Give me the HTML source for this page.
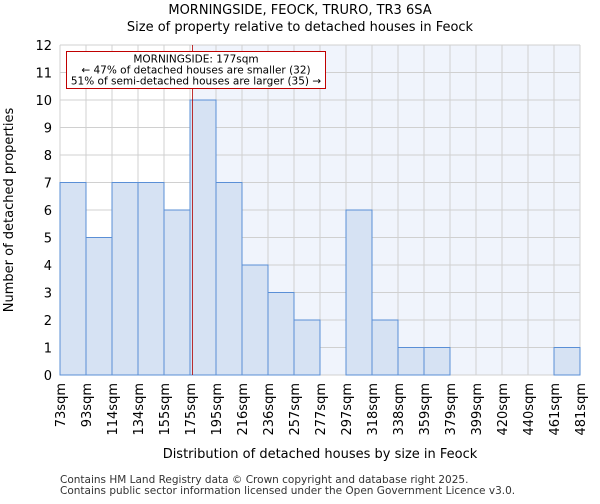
<!DOCTYPE html>
<html><head><meta charset="utf-8"><style>
body{margin:0;background:#fff;font-family:"DejaVu Sans","Liberation Sans",sans-serif}
</style></head><body>
<svg id="chart" width="600" height="500" xmlns="http://www.w3.org/2000/svg" font-family="DejaVu Sans, Liberation Sans, sans-serif">
<text x="300" y="14" text-anchor="middle" font-size="13">MORNINGSIDE, FEOCK, TRURO, TR3 6SA</text>
<text x="300" y="31" text-anchor="middle" font-size="13">Size of property relative to detached houses in Feock</text>
<g id="plot"></g>
<text x="320" y="458" text-anchor="middle" font-size="13">Distribution of detached houses by size in Feock</text>
<text transform="translate(13,210) rotate(-90)" text-anchor="middle" font-size="13">Number of detached properties</text>
<text x="60" y="483" font-size="10.5" fill="#333">Contains HM Land Registry data © Crown copyright and database right 2025.</text>
<text x="60" y="494" font-size="10.5" fill="#333">Contains public sector information licensed under the Open Government Licence v3.0.</text>
</svg>
<script>
const categories=["73sqm","93sqm","114sqm","134sqm","155sqm","175sqm","195sqm","216sqm","236sqm","257sqm","277sqm","297sqm","318sqm","338sqm","359sqm","379sqm","399sqm","420sqm","440sqm","461sqm","481sqm"];
const counts=[7,5,7,7,6,10,7,4,3,2,0,6,2,1,1,0,0,0,0,1];
const yTicks=[0,1,2,3,4,5,6,7,8,9,10,11,12];
const propertyBin=5.1;
const X0=60,X1=580,Y0=375,Y1=45,YMAX=12;
const nb=counts.length,bw=(X1-X0)/nb;
const x=i=>X0+i*bw, y=v=>Y0-(v/YMAX)*(Y0-Y1);
const ns="http://www.w3.org/2000/svg",g=document.getElementById('plot');
function mk(t,a){const e=document.createElementNS(ns,t);for(const k in a)e.setAttribute(k,a[k]);g.appendChild(e);return e;}
const px=x(propertyBin);
let e=mk('rect',{x:px,y:Y1,width:X1-px,height:Y0-Y1,fill:'#f0f4fc'});


for(let i=0;i<=nb;i++){e=mk('line',{x1:x(i),x2:x(i),y1:Y1,y2:Y0,stroke:'#d0d0d0'});

}
yTicks.forEach(t=>{e=mk('line',{x1:X0,x2:X1,y1:y(t),y2:y(t),stroke:'#d0d0d0'});


e=mk('text',{x:X0-8,y:y(t)+5,'text-anchor':'end','font-size':13});e.textContent=t;

});
counts.forEach((c,i)=>{if(c<=0)return;e=mk('rect',{x:x(i),y:y(c),width:bw,height:Y0-y(c),fill:'#d6e2f3',stroke:'#5a8fd6','stroke-width':1});

});
categories.forEach((c,i)=>{e=mk('text',{transform:`translate(${x(i)+5},${Y0+8}) rotate(-90)`,'text-anchor':'end','font-size':13});e.textContent=c;

});
e=mk('line',{x1:px,x2:px,y1:Y1,y2:Y0,stroke:'#b00000','stroke-width':0.8});


e=mk('rect',{x:66.5,y:51.5,width:259,height:37,fill:'#fff',stroke:'#c00000'});


["MORNINGSIDE: 177sqm","← 47% of detached houses are smaller (32)","51% of semi-detached houses are larger (35) →"].forEach((s,k)=>{e=mk('text',{x:196,y:62.5+k*11,'text-anchor':'middle','font-size':10.5});e.textContent=s;

});
</script>
</body></html>
